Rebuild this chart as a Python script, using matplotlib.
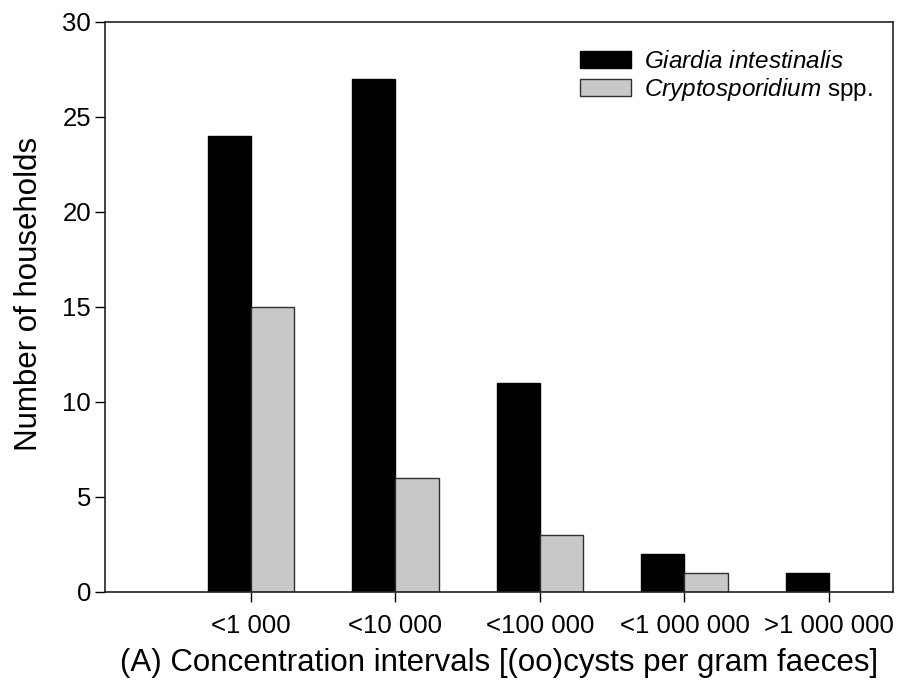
import numpy as np
import matplotlib
matplotlib.use("Agg")
import matplotlib.pyplot as plt
from matplotlib.patches import Patch

plt.rcParams['font.family'] = ['Liberation Sans', 'DejaVu Sans']
plt.rcParams['mathtext.fontset'] = 'custom'
plt.rcParams['mathtext.rm'] = 'Liberation Sans'
plt.rcParams['mathtext.it'] = 'Liberation Sans:italic'

categories = ['<1 000', '<10 000', '<100 000', '<1 000 000', '>1 000 000']
giardia = [24, 27, 11, 2, 1]
crypto = [15, 6, 3, 1, 0]

fig = plt.figure(figsize=(9, 6.82), dpi=100, facecolor='w')
ax = fig.add_axes([0.1167, 0.132, 0.875, 0.836])

x = np.arange(len(categories))
w = 0.3
ax.bar(x - w / 2, giardia, w, color='black', edgecolor='black', linewidth=1)
cb = ax.bar(x + w / 2, crypto, w, color='#c8c8c8', edgecolor='#303030', linewidth=1)
# zero-height bar should not show
cb[-1].set_visible(False)

ax.set_xlim(-1.01, 4.44)
ax.set_ylim(0, 30)
ax.set_yticks([0, 5, 10, 15, 20, 25, 30])
ax.set_xticks(x)
ax.set_xticklabels(categories)
ax.tick_params(axis='both', direction='out', length=7, width=1, labelsize=18.5, pad=3)
ax.tick_params(axis='x', pad=9)
for s in ax.spines.values():
    s.set_linewidth(1.2)
    s.set_color('#222222')

ax.set_ylabel('Number of households', fontsize=22.5)
ax.yaxis.set_label_coords(-0.078, 0.523)
ax.set_xlabel('(A) Concentration intervals [(oo)cysts per gram faeces]', fontsize=22.5, labelpad=7)

handles = [Patch(facecolor='black', edgecolor='black'),
           Patch(facecolor='#c8c8c8', edgecolor='#303030')]
leg = fig.legend(handles, ['$\\mathit{Giardia\\ intestinalis}$', '$\\mathit{Cryptosporidium}$ spp.'],
                 loc='upper left', frameon=False, fontsize=17.5,
                 handlelength=2.1, handleheight=0.7, handletextpad=0.55,
                 labelspacing=0.12, borderpad=0, borderaxespad=0,
                 bbox_to_anchor=(580 / 900, 1 - 51 / 682))

fig.savefig('out.png', dpi=100, facecolor='w')
